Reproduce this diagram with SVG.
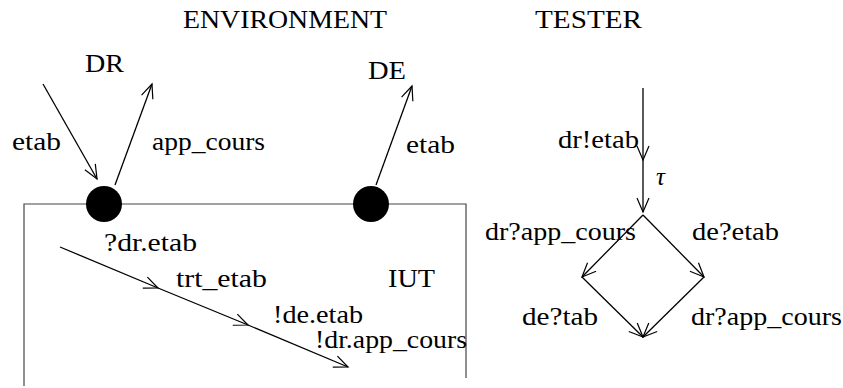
<svg xmlns="http://www.w3.org/2000/svg" width="843" height="388" viewBox="0 0 843 388">
<style>
.t{font-family:'Liberation Serif','DejaVu Serif',serif;font-size:25px;fill:#000}
.ln{stroke:#000;stroke-width:1.3;fill:none}
.box{stroke:#444;stroke-width:1.2;fill:none}
</style>
<defs>
<marker id="ah" markerUnits="userSpaceOnUse" markerWidth="16" markerHeight="14" refX="14" refY="6" orient="auto" overflow="visible">
<path d="M0,0 L14,6 L0,12" fill="none" stroke="#000" stroke-width="1.2"/>
</marker>
</defs>
<rect width="843" height="388" fill="#fff"/>
<g id="titles" class="t">
<text x="183" y="28" textLength="204" lengthAdjust="spacingAndGlyphs">ENVIRONMENT</text>
<text x="535" y="28" textLength="107" lengthAdjust="spacingAndGlyphs">TESTER</text>
</g>
<g id="iut">
<path class="box" d="M24,386 V204 H466 V378"/>
<text class="t" x="388" y="287" textLength="47" lengthAdjust="spacingAndGlyphs">IUT</text>
</g>
<g id="port-dr"><circle cx="104" cy="204" r="18" fill="#000"/></g>
<g id="port-de"><circle cx="371" cy="204" r="18" fill="#000"/></g>
<g id="dr"><text class="t" x="85" y="72" textLength="39" lengthAdjust="spacingAndGlyphs">DR</text></g>
<g id="de"><text class="t" x="368" y="79" textLength="38" lengthAdjust="spacingAndGlyphs">DE</text></g>
<g id="connectors">
<line class="ln" x1="43" y1="84" x2="97" y2="179" marker-end="url(#ah)"/>
<line class="ln" x1="115" y1="185" x2="152" y2="84" marker-end="url(#ah)"/>
<line class="ln" x1="376" y1="185" x2="412" y2="86" marker-end="url(#ah)"/>
<line class="ln" x1="60" y1="247" x2="158" y2="288" marker-end="url(#ah)"/>
<line class="ln" x1="158" y1="288" x2="248" y2="325" marker-end="url(#ah)"/>
<line class="ln" x1="248" y1="325" x2="348" y2="367" marker-end="url(#ah)"/>
<line class="ln" x1="643" y1="88" x2="643" y2="160" marker-end="url(#ah)"/>
<line class="ln" x1="643" y1="160" x2="643" y2="212" marker-end="url(#ah)"/>
<line class="ln" x1="643" y1="215" x2="582" y2="277" marker-end="url(#ah)"/>
<line class="ln" x1="643" y1="215" x2="704" y2="277" marker-end="url(#ah)"/>
<line class="ln" x1="582" y1="277" x2="643" y2="337" marker-end="url(#ah)"/>
<line class="ln" x1="704" y1="277" x2="643" y2="337" marker-end="url(#ah)"/>
<g class="t">
<text x="12" y="150" textLength="49" lengthAdjust="spacingAndGlyphs">etab</text>
<text x="152" y="150" textLength="113" lengthAdjust="spacingAndGlyphs">app_cours</text>
<text x="406" y="153" textLength="49" lengthAdjust="spacingAndGlyphs">etab</text>
<text x="104" y="251" textLength="93" lengthAdjust="spacingAndGlyphs">?dr.etab</text>
<text x="176" y="287" textLength="91" lengthAdjust="spacingAndGlyphs">trt_etab</text>
<text x="273" y="323" textLength="90" lengthAdjust="spacingAndGlyphs">!de.etab</text>
<text x="315" y="348" textLength="152" lengthAdjust="spacingAndGlyphs">!dr.app_cours</text>
<text x="558" y="148" textLength="81" lengthAdjust="spacingAndGlyphs">dr!etab</text>
<text x="656" y="185" font-style="italic">τ</text>
<text x="485" y="240" textLength="151" lengthAdjust="spacingAndGlyphs">dr?app_cours</text>
<text x="692" y="240" textLength="87" lengthAdjust="spacingAndGlyphs">de?etab</text>
<text x="522" y="325" textLength="76" lengthAdjust="spacingAndGlyphs">de?tab</text>
<text x="691" y="325" textLength="151" lengthAdjust="spacingAndGlyphs">dr?app_cours</text>
</g>
</g>
</svg>
